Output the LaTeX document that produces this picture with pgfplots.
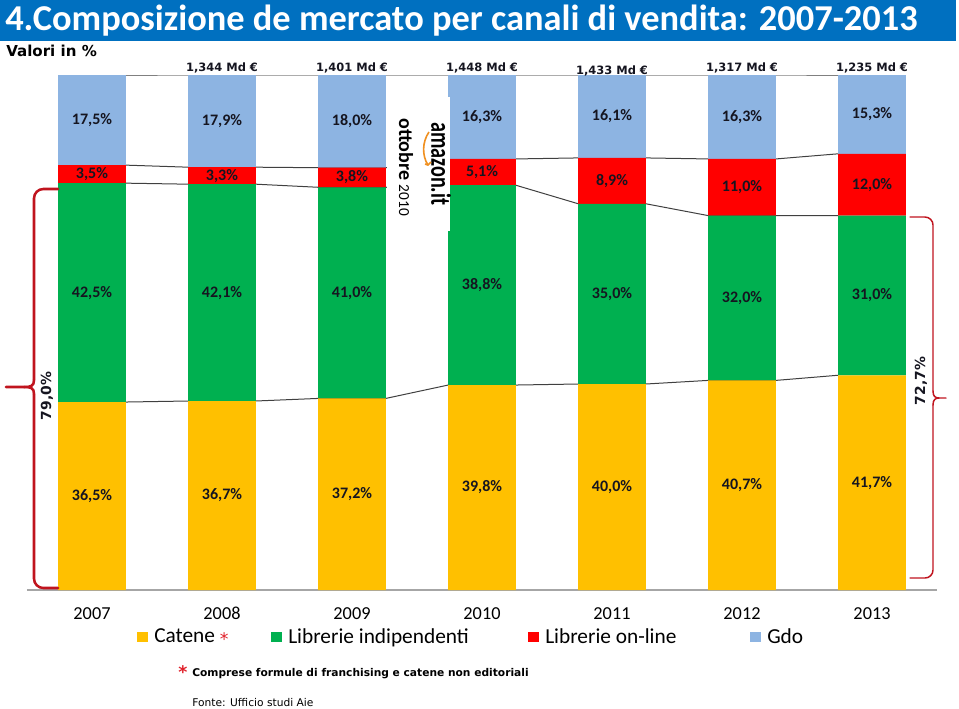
\documentclass[border=0pt]{standalone}
\usepackage{pgfplots}
\pgfplotsset{compat=1.18}
\usepackage{pgfplotstable}
\usepackage{fontspec}
\setmainfont{Carlito}
\newfontfamily\dv{DejaVu Sans}
\newfontfamily\amz[FakeStretch=0.72]{Carlito}
\definecolor{catc}{HTML}{FFC000}
\definecolor{indc}{HTML}{00B050}
\definecolor{onlc}{HTML}{FF0000}
\definecolor{gdoc}{HTML}{8DB4E2}
\definecolor{titc}{HTML}{0070C0}
\definecolor{bracec}{HTML}{C0141E}
\definecolor{labc}{HTML}{151520}
\definecolor{connc}{HTML}{404040}
\definecolor{starc}{HTML}{E0202A}
\definecolor{amzc}{HTML}{F09020}

\pgfplotstableread{
x cat ind onl gdo
0 36.5 42.5 3.5 17.5
1 36.7 42.1 3.3 17.9
2 37.2 41.0 3.8 18.0
3 39.8 38.8 5.1 16.3
4 40.0 35.0 8.9 16.1
5 40.7 32.0 11.0 16.3
6 41.7 31.0 12.0 15.3
}\shares

\pgfplotstableread{
x a b c d
0.26 36.5 79.0 82.5 100
0.74 36.7 78.8 82.1 100
1.26 36.7 78.8 82.1 100
1.74 37.2 78.2 82.0 100
2.26 37.2 78.2 82.0 100
2.74 39.8 78.6 83.7 100
3.26 39.8 78.6 83.7 100
3.74 40.0 75.0 83.9 100
4.26 40.0 75.0 83.9 100
4.74 40.7 72.7 83.7 100
5.26 40.7 72.7 83.7 100
5.74 41.7 72.7 84.7 100
}\conntab

\pgfplotstableread{
x y v
1 101.4 1.344
2 101.4 1.401
3 101.4 1.448
4 100.8 1.433
5 101.4 1.317
6 101.4 1.235
}\mdtab

\pgfplotsset{
  /pgf/number format/assume math mode=true,
  base/.style={
    at={(20.25pt,-442.5pt)}, anchor=south west,
    scale only axis, width=682.5pt, height=386.25pt,
    xmin=-0.5, xmax=6.5, ymin=0, ymax=100, clip=false},
  lab/.style={draw=none, mark=none, point meta=explicit,
    nodes near coords={\pgfmathprintnumber[fixed,fixed zerofill,precision=1,use comma]{\pgfplotspointmeta}\%},
    nodes near coords align=center,
    every node near coord/.append style={font=\fontsize{12}{14}\bfseries, text=labc, inner sep=0pt}},
}

\begin{document}
\begin{tikzpicture}
\begin{scope}[x=0.75pt,y=-0.75pt]
\path[use as bounding box] (0,0) rectangle (959,708);
\fill[titc] (0,0) rectangle (956,41);
\node[anchor=west, inner sep=0pt, text=white, font=\fontsize{27.3}{31}\bfseries] at (5,21) {4.Composizione de mercato per canali di vendita: 2007-2013};
\node[anchor=base west, inner sep=0pt, font=\dv\bfseries\fontsize{11.3}{13}\selectfont] at (6,56) {Valori in \%};
\end{scope}

% connector lines (behind the bars)
\begin{axis}[base, hide axis]
\addplot[connc, line width=0.75pt, mark=none] table[x=x,y=a]{\conntab};
\addplot[connc, line width=0.75pt, mark=none] table[x=x,y=b]{\conntab};
\addplot[connc, line width=0.75pt, mark=none] table[x=x,y=c]{\conntab};
\addplot[gray, line width=0.75pt, mark=none] table[x=x,y=d]{\conntab};
\end{axis}

% stacked bars
\begin{axis}[base, ybar stacked, bar width=0.52,
  axis y line=none, axis x line*=bottom,
  x axis line style={draw=gray!70, line width=0.8pt},
  xtick={0,...,6}, xticklabels={2007,2008,2009,2010,2011,2012,2013},
  major tick length=0pt, ytick=\empty,
  xticklabel style={anchor=base, yshift=-21.75pt, font=\fontsize{13.7}{16}\selectfont},
  legend columns=4,
  legend cell align=left,
  legend style={at={(0.1209,-0.0913)}, anchor=west, draw=none, fill=none,
    inner sep=0pt, column sep=0pt, nodes={inner sep=0pt},
    font=\fontsize{16}{18}\selectfont},
  legend image code/.code={\fill[#1] (0pt,-4.1pt) rectangle (8.25pt,4.1pt); \path (12.75pt,0pt);},
]
\addplot[fill=catc, draw=none] table[x=x,y=cat]{\shares};
\addlegendentry{\makebox[87.75pt][l]{Catene {\dv\fontsize{13}{15}\selectfont\raisebox{-0.3ex}{\textcolor{starc}{*}}}}}
\addplot[fill=indc, draw=none] table[x=x,y=ind]{\shares};
\addlegendentry{\makebox[180pt][l]{Librerie indipendenti}}
\addplot[fill=onlc, draw=none] table[x=x,y=onl]{\shares};
\addlegendentry{\makebox[153.75pt][l]{Librerie on-line}}
\addplot[fill=gdoc, draw=none] table[x=x,y=gdo]{\shares};
\addlegendentry{Gdo}
\end{axis}

% data labels
\begin{axis}[base, hide axis]
\addplot[lab] table[x=x, y expr=\thisrow{cat}/2, meta=cat]{\shares};
\addplot[lab] table[x=x, y expr=\thisrow{cat}+\thisrow{ind}/2, meta=ind]{\shares};
\addplot[lab] table[x=x, y expr=\thisrow{cat}+\thisrow{ind}+\thisrow{onl}/2, meta=onl]{\shares};
\addplot[lab] table[x=x, y expr=100-\thisrow{gdo}/2, meta=gdo]{\shares};
\addplot[draw=none, mark=none, point meta=explicit,
  nodes near coords={\pgfmathprintnumber[fixed,fixed zerofill,precision=3,use comma]{\pgfplotspointmeta}~Md~€},
  nodes near coords align=center,
  every node near coord/.append style={font=\dv\bfseries\fontsize{8.6}{10}\selectfont, text=labc, inner sep=0pt}]
  table[x=x,y=y,meta=v]{\mdtab};
\end{axis}

\begin{scope}[x=0.75pt,y=-0.75pt]
% amazon box
\fill[white] (387,97) rectangle (450,231);
\node[rotate=-90, anchor=west, inner sep=0pt, font=\fontsize{15}{18}\bfseries] at (406,118) {ottobre {\fontsize{11.5}{14}\mdseries 2010}};
\node[rotate=-90, anchor=west, inner sep=0pt, font=\amz\bfseries\fontsize{21}{24}\selectfont] at (441,122) {amazon.it};
\draw[amzc, line width=1.2pt] (429,132) .. controls (422,142) and (422,156) .. (428,165);
\draw[amzc, line width=1.2pt] (425,164) -- (428,165) -- (431,162);
% left brace
\begin{scope}[bracec, line width=1.9pt, line cap=round]
\draw[rounded corners=7pt] (58,189) -- (34,189) -- (34,380);
\draw (34,380) .. controls (34,386) and (31,387) .. (24,387) -- (6,387);
\draw (34,394) .. controls (34,388) and (31,387) .. (24,387);
\draw[rounded corners=7pt] (34,394) -- (34,588) -- (58,588);
\end{scope}
\node[rotate=90, inner sep=0pt, text=labc, font=\dv\bfseries\fontsize{10.4}{12}\selectfont] at (47,396) {79,0\%};
% right brace
\begin{scope}[bracec, line width=1.1pt, line cap=round]
\draw[rounded corners=6pt] (910,217) -- (933,217) -- (933,391);
\draw (933,391) .. controls (933,396) and (935,398) .. (939,398) -- (946,398);
\draw (933,405) .. controls (933,400) and (935,398) .. (939,398);
\draw[rounded corners=6pt] (933,405) -- (933,578) -- (910,578);
\end{scope}
\node[rotate=90, inner sep=0pt, text=labc, font=\dv\bfseries\fontsize{10.4}{12}\selectfont] at (921,381) {72,7\%};
% footnotes
\node[anchor=base west, inner sep=0pt, text=starc, font=\dv\bfseries\fontsize{13}{15}\selectfont] at (178,678) {*};
\node[anchor=base west, inner sep=0pt, font=\dv\bfseries\fontsize{8}{10}\selectfont] at (192,676) {Comprese formule di franchising e catene non editoriali};
\node[anchor=base west, inner sep=0pt, font=\dv\fontsize{8}{10}\selectfont] at (192,706) {Fonte: Ufficio studi Aie};
\end{scope}
\end{tikzpicture}
\end{document}
